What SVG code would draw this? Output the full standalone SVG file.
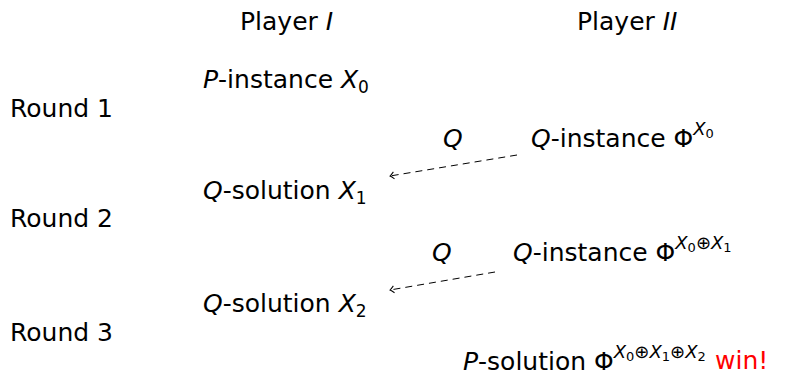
<svg xmlns="http://www.w3.org/2000/svg" width="792" height="377" viewBox="0 0 792 377">
<style>
text{font-family:"DejaVu Sans","Liberation Sans",sans-serif;font-size:25px;fill:#000}
.i{font-style:italic}
.s{font-size:17px}
.sup{font-size:18px;font-style:italic}
.ss{font-size:13px}
.op{font-size:18px}
.win{fill:#ff0000}
.arr{fill:none;stroke:#000;stroke-width:1;stroke-dasharray:7 5}
</style>
<defs>
<marker id="ah" markerWidth="10" markerHeight="10" refX="0" refY="0" viewBox="-6 -5 8 10" orient="auto" markerUnits="userSpaceOnUse">
<path d="M-4,-3.5 Q-1.5,-1 0,0 Q-1.5,1 -4,3.5" fill="none" stroke="#000" stroke-width="1"/>
</marker>
</defs>
<rect width="792" height="377" fill="#fff"/>
<g id="player1"><text x="240" y="30">Player <tspan class="i">I</tspan></text></g>
<g id="player2"><text x="577" y="30">Player <tspan class="i">II</tspan></text></g>
<g id="round1"><text x="10" y="117">Round 1</text></g>
<g id="round2"><text x="10" y="227">Round 2</text></g>
<g id="round3"><text x="10" y="341">Round 3</text></g>
<g id="p-instance"><text x="203" y="88"><tspan class="i">P</tspan>-instance <tspan class="i">X</tspan><tspan class="s" dy="5">0</tspan></text></g>
<g id="q-instance1"><text x="531" y="147"><tspan class="i">Q</tspan>-instance Φ<tspan class="sup" dy="-12">X</tspan><tspan class="ss" dy="3">0</tspan></text></g>
<g id="q-solution1"><text x="203" y="199"><tspan class="i">Q</tspan>-solution <tspan class="i">X</tspan><tspan class="s" dy="5">1</tspan></text></g>
<g id="q-instance2"><text x="513" y="261"><tspan class="i">Q</tspan>-instance Φ<tspan class="sup" dy="-12">X</tspan><tspan class="ss" dy="3">0</tspan><tspan class="op" dy="-3">⊕</tspan><tspan class="sup">X</tspan><tspan class="ss" dy="3">1</tspan></text></g>
<g id="q-solution2"><text x="203" y="312"><tspan class="i">Q</tspan>-solution <tspan class="i">X</tspan><tspan class="s" dy="5">2</tspan></text></g>
<g id="p-solution"><text x="463" y="370"><tspan class="i">P</tspan>-solution Φ<tspan class="sup" dy="-12">X</tspan><tspan class="ss" dy="3">0</tspan><tspan class="op" dy="-3">⊕</tspan><tspan class="sup">X</tspan><tspan class="ss" dy="3">1</tspan><tspan class="op" dy="-3">⊕</tspan><tspan class="sup">X</tspan><tspan class="ss" dy="3">2</tspan></text><text x="715" y="369" class="win">win!</text></g>
<g id="connectors">
<line class="arr" x1="517" y1="155" x2="390" y2="176" marker-end="url(#ah)"/>
<text x="443" y="147" class="i">Q</text>
<line class="arr" x1="495" y1="272" x2="390" y2="290" marker-end="url(#ah)"/>
<text x="432" y="261" class="i">Q</text>
</g>
</svg>
